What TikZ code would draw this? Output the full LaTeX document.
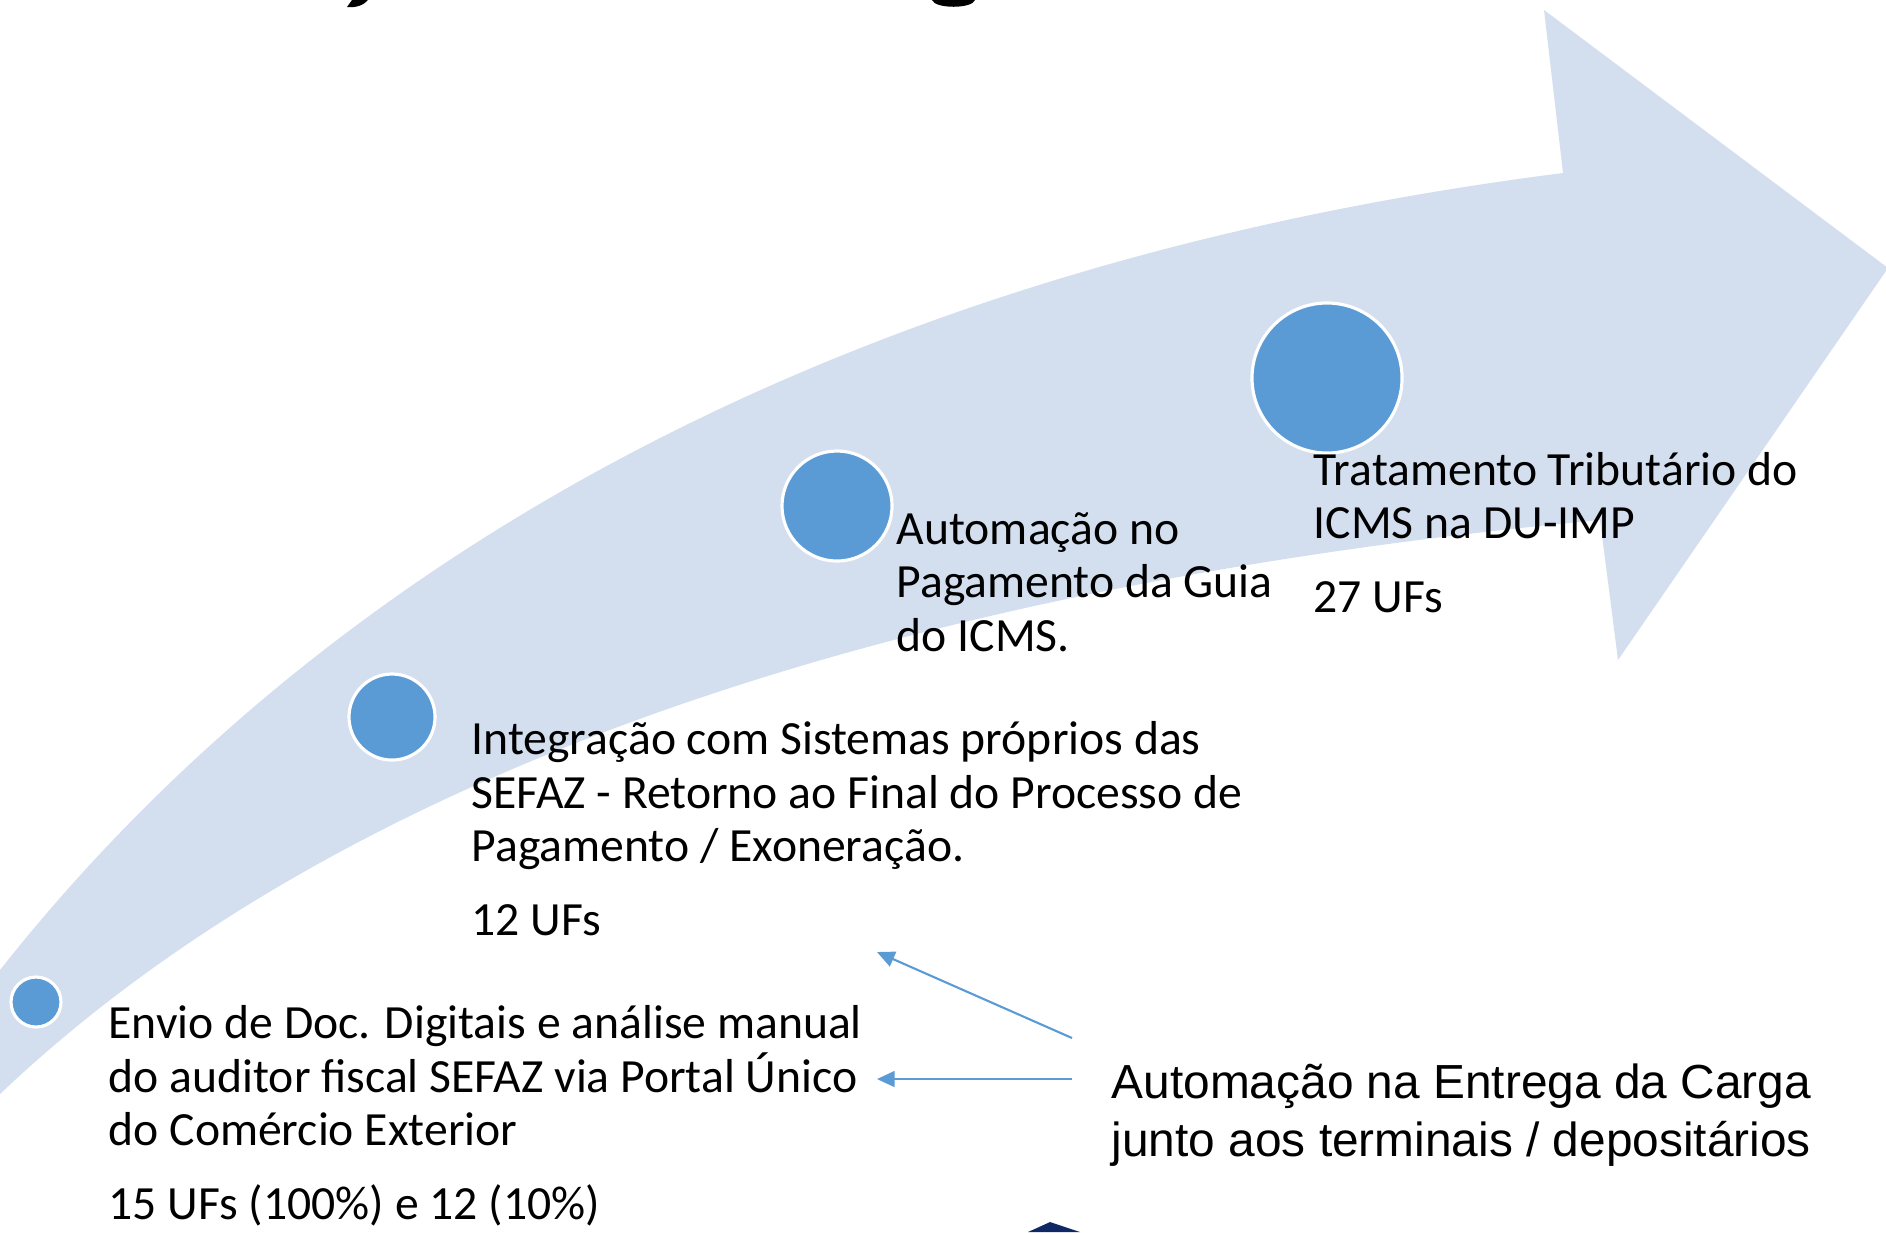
\documentclass[tikz,border=0pt]{standalone}
\usepackage{fontspec}
\setmainfont{Carlito}
\newfontfamily\arialfont{Liberation Sans}
\usetikzlibrary{arrows.meta,positioning,calc}
\definecolor{bandblue}{RGB}{211,222,239}
\definecolor{dotblue}{RGB}{91,155,213}
\definecolor{logonavy}{RGB}{16,40,100}

\begin{document}
\begin{tikzpicture}[
    x=0.01cm, y=-0.01cm,
    dot/.style={circle, fill=dotblue, draw=white, line width=0.9pt, inner sep=0pt},
    stagetext/.style={anchor=base west, inner sep=0pt, align=left,
                font=\fontsize{13.55}{15.1}\selectfont},
    notetext/.style={anchor=base west, inner sep=0pt, align=left,
                font=\arialfont\fontsize{13.6}{16.5}\selectfont},
    link/.style={draw=dotblue, line width=0.6pt, -{Triangle[length=5pt,width=4.5pt]}},
]
\useasboundingbox (0,0) rectangle (1886,1232);

% Curved arrow band
\fill[bandblue] (0,1094) .. controls (320,790) and (850,590) .. (1600,520)
    -- (1618,660) -- (1888,268) -- (1544,10) -- (1563,173)
    .. controls (800,270) and (300,590) .. (0,970) -- cycle;

% Cut-off title and logo
\fill[black] (347,7) .. controls (356,8) and (364,5) .. (368,0) -- (352,0) -- cycle;
\fill[black] (932,0) .. controls (935,9) and (972,9) .. (975,0) -- cycle;
\fill[logonavy] (1028,1232) -- (1050,1222) -- (1080,1232) -- cycle;

% Milestones
\node[dot, minimum size=0.5cm] (dot1) at (36,1002) {};
\node[dot, minimum size=0.86cm] (dot2) at (392,717) {};
\node[dot, minimum size=1.1cm] (dot3) at (837,506) {};
\node[dot, minimum size=1.5cm] (dot4) at (1327,378) {};

% Texts (anchored at the baseline of their last line)
\node[stagetext] (envio) at (108,1219) {Envio de Doc. Digitais e análise manual\\do auditor fiscal SEFAZ via Portal Único\\do Comércio Exterior\\[5.9pt]15 UFs (100\%) e 12 (10\%)};
\node[stagetext] (integr) at (471,935) {Integração com Sistemas próprios das\\SEFAZ - Retorno ao Final do Processo de\\Pagamento / Exoneração.\\[5.9pt]12 UFs};
\node[stagetext] (guia) at (896,651) {Automação no\\Pagamento da Guia\\do ICMS.};
\node[stagetext] (trat) at (1313,612) {Tratamento Tributário do\\ICMS na DU-IMP\\[5.9pt]27 UFs};
\node[notetext] (entrega) at (1111,1156) {Automação na Entrega da Carga\\junto aos terminais / depositários};

% Lines
\coordinate (tipA) at (877,952);
\coordinate (tipB) at (877,1079);
\draw[link] ($(entrega.base west)+(-39,-118)$) -- (tipA);
\draw[link] ($(entrega.base west)+(-39,-77)$) -- (tipB);

\end{tikzpicture}
\end{document}
